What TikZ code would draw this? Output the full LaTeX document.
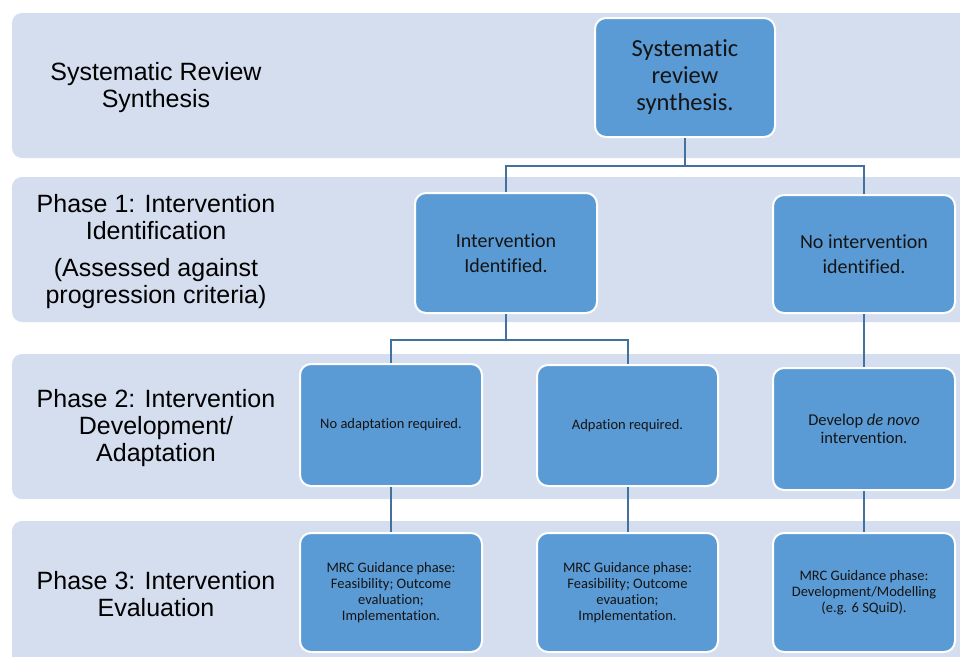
\documentclass[tikz,border=0pt]{standalone}
\usepackage{fontspec}
\setmainfont{Carlito}[Ligatures=NoCommon]
\newfontfamily\labfont{Liberation Sans}
\definecolor{bandc}{HTML}{D4DEEE}
\definecolor{boxc}{HTML}{5B9BD5}
\definecolor{linec}{HTML}{41719C}
\definecolor{txt}{HTML}{141414}
\tikzset{
  band/.style={fill=bandc, draw=none, rounded corners=10pt},
  rowlab/.style={align=center, text=black, font=\labfont\fontsize{25}{27}\selectfont},
  bbox/.style={fill=boxc, draw=white, line width=2pt, rounded corners=11pt,
     minimum width=182pt, minimum height=120pt, align=center, text=txt, inner sep=2pt},
  conn/.style={draw=linec, line width=2pt}
}
\begin{document}
\begin{tikzpicture}[x=1pt,y=-1pt]
\useasboundingbox (0,0) rectangle (960,656);
\clip (0,0) rectangle (960,656);
% bands
\fill[band] (12,13) rectangle (985,158);
\fill[band] (12,177) rectangle (985,322);
\fill[band] (12,354) rectangle (985,499);
\fill[band] (12,521) rectangle (985,680);
% row labels
\node[rowlab] (l0) at (156,87.5) {Systematic Review\\Synthesis};
\node[rowlab, align=center] (l1) at (156,252) {Phase 1: Intervention\\Identification\\[10pt](Assessed against\\progression criteria)};
\node[rowlab] (l2) at (156,428.5) {Phase 2: Intervention\\Development/\\Adaptation};
\node[rowlab] (l3) at (156,594) {Phase 3: Intervention\\Evaluation};
% boxes
\node[bbox, minimum width=180pt, minimum height=119pt, font=\fontsize{24.5}{27}\selectfont] (top) at (685,77.5) {Systematic\\review\\synthesis.};
\node[bbox, font=\fontsize{20}{25}\selectfont] (ii) at (506,253) {Intervention\\Identified.};
\node[bbox, minimum height=118pt, font=\fontsize{20}{25}\selectfont] (noi) at (864,254) {No intervention\\identified.};
\node[bbox, minimum height=122pt, font=\fontsize{14.5}{16}\selectfont] (noa) at (391,425) {No adaptation required.};
\node[bbox, minimum width=181pt, minimum height=121pt, font=\fontsize{14.5}{16}\selectfont] (adp) at (627.5,425.5) {Adpation required.};
\node[bbox, minimum height=122pt, font=\fontsize{16.5}{18}\selectfont] (den) at (864,429) {Develop \textit{de novo}\\intervention.};
\node[bbox, minimum height=119pt, font=\fontsize{14.5}{16}\selectfont] (m1) at (391,592.5) {MRC Guidance phase:\\Feasibility; Outcome\\evaluation;\\Implementation.};
\node[bbox, minimum width=181pt, minimum height=119pt, font=\fontsize{14.5}{16}\selectfont] (m2) at (627.5,592.5) {MRC Guidance phase:\\Feasibility; Outcome\\evauation;\\Implementation.};
\node[bbox, minimum height=119pt, font=\fontsize{14.5}{16}\selectfont] (m3) at (864,592.5) {MRC Guidance phase:\\Development/Modelling\\(e.g. 6 SQuiD).};
% junctions
\coordinate (j1) at (685,166);
\coordinate (j2) at (506,340);
% connectors
\draw[conn] (top.south) -- (j1);
\draw[conn] (ii.north) |- (j1) -| (noi.north);
\draw[conn] (ii.south) -- (j2);
\draw[conn] (noa.north) |- (j2) -| (adp.north);
\draw[conn] (noi.south) -- (den.north);
\draw[conn] (noa.south) -- (m1.north);
\draw[conn] (adp.south) -- (m2.north);
\draw[conn] (den.south) -- (m3.north);
\end{tikzpicture}
\end{document}
